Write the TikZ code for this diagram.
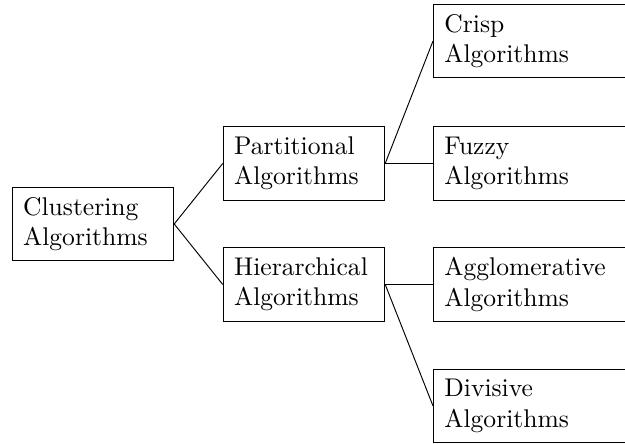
\documentclass[tikz,border=0pt]{standalone}
\usetikzlibrary{positioning}
\begin{document}
\begin{tikzpicture}[box/.style={draw,align=left,text width=59pt,inner xsep=4.6pt,minimum height=31pt,
    font=\fontsize{10.8}{12.8}\selectfont},
  leaf/.style={box,anchor=west,text width=84pt}]
\useasboundingbox (0,0) rectangle (9.275,6.589);
\node[box] (clus) at (1.38,3.265){Clustering\\Algorithms};
\node[box] (part) at (4.511,4.163){Partitional\\Algorithms};
\node[box] (hier) at (4.511,2.367){Hierarchical\\Algorithms};

\node[leaf] (crisp) at (6.426,5.981){Crisp\\Algorithms};
\node[leaf] (fuzzy) at (6.426,4.163){Fuzzy\\Algorithms};
\node[leaf] (aggl) at (6.426,2.367){Agglomerative\\Algorithms};
\node[leaf] (divi) at (6.426,0.564){Divisive\\Algorithms};

\draw (clus.east) -- (part.west);
\draw (clus.east) -- (hier.west);
\draw (part.east) -- (crisp.west);
\draw (part.east) -- (fuzzy.west);
\draw (hier.east) -- (aggl.west);
\draw (hier.east) -- (divi.west);
\end{tikzpicture}
\end{document}
